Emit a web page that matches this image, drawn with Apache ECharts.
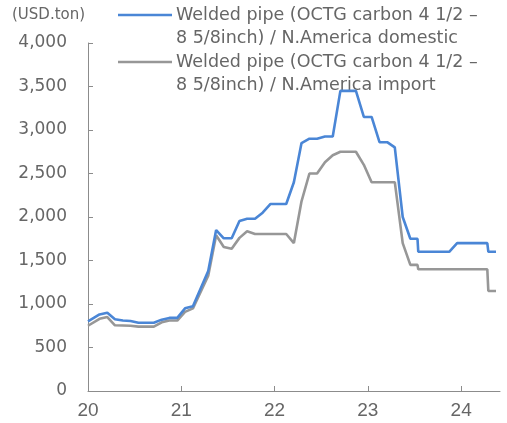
<!DOCTYPE html>
<html>
<head>
<meta charset="utf-8">
<script src="https://cdn.jsdelivr.net/npm/echarts@6/dist/echarts.min.js"></script>
<style>
  html, body { margin: 0; padding: 0; background: #fff; }
  #chart { width: 507px; height: 423px; }
</style>
</head>
<body>
<div id="chart"></div>
<script>
// Welded OCTG pipe prices, North America (USD per ton)
const domesticName = 'Welded pipe (OCTG carbon 4 1/2 –\n8 5/8inch) / N.America domestic';
const importName = 'Welded pipe (OCTG carbon 4 1/2 –\n8 5/8inch) / N.America import';

const domesticDates = [
  '2020-01-01', '2020-02-15', '2020-03-16', '2020-04-15', '2020-05-16', '2020-06-15',
  '2020-07-16', '2020-09-15', '2020-10-16', '2020-11-15', '2020-12-16', '2021-01-16',
  '2021-02-15', '2021-04-15', '2021-05-16', '2021-06-15', '2021-07-16', '2021-08-16',
  '2021-09-15', '2021-10-16', '2021-11-15', '2021-12-16', '2022-02-15', '2022-03-16',
  '2022-04-15', '2022-05-16', '2022-06-15', '2022-07-16', '2022-08-16', '2022-09-15',
  '2022-11-15', '2022-12-16', '2023-01-16', '2023-02-15', '2023-03-16', '2023-04-15',
  '2023-05-16', '2023-06-15', '2023-07-13', '2023-07-16', '2023-11-15', '2023-12-16',
  '2024-04-12', '2024-04-16', '2024-05-16'
];
const domesticValues = [
  800, 880, 900, 825, 810, 805,
  785, 785, 820, 840, 840, 950,
  975, 1380, 1850, 1755, 1755, 1955,
  1980, 1980, 2050, 2150, 2150, 2400,
  2850, 2900, 2900, 2925, 2925, 3450,
  3450, 3150, 3150, 2860, 2860, 2800,
  2000, 1750, 1750, 1600, 1600, 1700,
  1700, 1600, 1600
];

const importDates = [
  '2020-01-01', '2020-02-15', '2020-03-16', '2020-04-15', '2020-06-15', '2020-07-16',
  '2020-09-15', '2020-10-16', '2020-11-15', '2020-12-16', '2021-01-16', '2021-02-15',
  '2021-04-15', '2021-05-16', '2021-06-15', '2021-07-16', '2021-08-16', '2021-09-15',
  '2021-10-16', '2022-02-15', '2022-03-16', '2022-04-15', '2022-05-16', '2022-06-15',
  '2022-07-16', '2022-08-16', '2022-09-15', '2022-11-15', '2022-12-16', '2023-01-16',
  '2023-04-15', '2023-05-16', '2023-06-15', '2023-07-13', '2023-07-16', '2024-04-12',
  '2024-04-16', '2024-05-16'
];
const importValues = [
  750, 830, 850, 755, 750, 740,
  740, 790, 810, 810, 910, 950,
  1325, 1790, 1655, 1635, 1760, 1835,
  1805, 1805, 1700, 2180, 2500, 2500,
  2630, 2710, 2750, 2750, 2600, 2400,
  2400, 1700, 1450, 1450, 1400, 1400,
  1150, 1150
];

// Axis labels: one per year, shown as two-digit years
const yearTicks = [0, 12, 24, 36, 48];
const yearLabels = ['20', '21', '22', '23', '24'];
const unitLabel = '(USD.ton)';

const domesticColor = '#4a86d6';
const importColor = '#979797';
const textColor = '#666666';
const axisColor = '#8c8c8c';

// Months elapsed since January 2020 for a YYYY-MM-DD date
function monthsSince2020(s) {
  const [y, m, d] = s.split('-').map(Number);
  const daysInMonth = new Date(y, m, 0).getDate();
  return (y - 2020) * 12 + (m - 1) + (d - 1) / daysInMonth;
}
function pairs(dates, values) {
  return dates.map((d, i) => [monthsSince2020(d), values[i]]);
}

const chart = echarts.init(document.getElementById('chart'), null, { renderer: 'canvas' });

const font = 'DejaVu Sans';
const legendLine = 23.3;

// Legend entry: a short line swatch beside a two-line caption whose first line sits level with it
function legendEntry(name, color, y) {
  return [
    {
      type: 'line', shape: { x1: 118, y1: y, x2: 172, y2: y },
      style: { stroke: color, lineWidth: 2.6 }
    },
    {
      type: 'text', x: 176, y: y - legendLine / 2,
      style: {
        text: name, font: '17.5px "' + font + '"', fill: textColor,
        lineHeight: legendLine, verticalAlign: 'top'
      }
    }
  ];
}

chart.setOption({
  animation: false,
  backgroundColor: '#ffffff',
  grid: { left: 88, right: 7, top: 43, bottom: 32, containLabel: false },
  xAxis: {
    type: 'value',
    min: 0,
    max: 53,
    interval: 12,
    splitLine: { show: false },
    axisLine: { show: true, lineStyle: { color: axisColor, width: 1 } },
    axisTick: { show: true, inside: true, length: 5, customValues: yearTicks, lineStyle: { color: axisColor } },
    axisLabel: {
      customValues: yearTicks,
      formatter: v => yearLabels[yearTicks.indexOf(Math.round(v))] || '',
      color: textColor,
      fontFamily: 'Liberation Sans',
      fontSize: 19,
      margin: 10
    }
  },
  yAxis: {
    type: 'value',
    min: 0,
    max: 4000,
    interval: 500,
    splitLine: { show: false },
    axisLine: { show: true, lineStyle: { color: axisColor, width: 1 } },
    axisTick: { show: true, inside: true, length: 5, lineStyle: { color: axisColor } },
    axisLabel: {
      color: textColor,
      fontFamily: font,
      fontSize: 17,
      margin: 21,
      formatter: v => v.toLocaleString('en-US')
    }
  },
  series: [
    {
      name: domesticName,
      type: 'line',
      data: pairs(domesticDates, domesticValues),
      showSymbol: false,
      symbol: 'none',
      lineStyle: { color: domesticColor, width: 2.6 },
      z: 3
    },
    {
      name: importName,
      type: 'line',
      data: pairs(importDates, importValues),
      showSymbol: false,
      symbol: 'none',
      lineStyle: { color: importColor, width: 2.6 },
      z: 2
    }
  ],
  graphic: [
    {
      type: 'text', left: 12, top: 8,
      style: { text: unitLabel, font: '15px "' + font + '"', fill: textColor }
    }
  ].concat(legendEntry(domesticName, domesticColor, 15), legendEntry(importName, importColor, 62))
});
</script>
</body>
</html>
